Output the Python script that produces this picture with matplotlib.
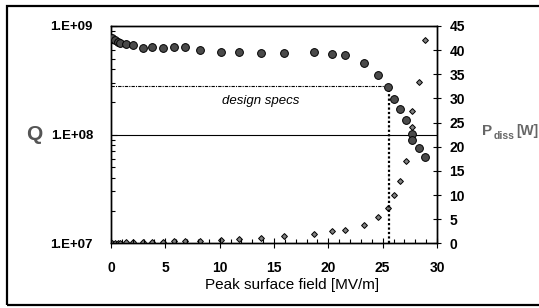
import matplotlib
matplotlib.use("Agg")
import matplotlib.pyplot as plt
from matplotlib.patches import Rectangle
from matplotlib.ticker import FixedLocator, MultipleLocator, LogLocator, NullFormatter

# ---- data ----
field = [0.12, 0.37, 0.62, 0.86, 1.35, 2.05, 2.98, 3.80, 4.76, 5.80, 6.82, 8.20,
         10.13, 11.82, 13.79, 15.96, 18.64, 20.36, 21.53, 23.24, 24.55, 25.47,
         26.07, 26.64, 27.11, 27.74, 27.74, 28.34, 28.94]
q_values = [7.7e8, 7.4e8, 7.2e8, 7.0e8, 6.9e8, 6.7e8, 6.3e8, 6.45e8, 6.24e8, 6.45e8,
            6.37e8, 6.0e8, 5.73e8, 5.73e8, 5.61e8, 5.61e8, 5.73e8, 5.5e8, 5.38e8,
            4.54e8, 3.55e8, 2.74e8, 2.12e8, 1.71e8, 1.36e8, 1.01e8, 8.9e7, 7.5e7, 6.2e7]
p_diss = [0.1, 0.1, 0.1, 0.15, 0.2, 0.2, 0.25, 0.3, 0.3, 0.4, 0.45, 0.5,
          0.7, 0.9, 1.1, 1.5, 1.9, 2.5, 2.7, 3.7, 5.4, 7.4,
          10.1, 13.0, 17.0, 24.0, 27.4, 33.5, 42.2]
spec_field = 25.6
spec_q = 2.8e8
ref_q = 1e8
x_ticks = [0, 5, 10, 15, 20, 25, 30]
q_ticks = [1e7, 1e8, 1e9]
q_tick_labels = ["1.E+07", "1.E+08", "1.E+09"]
p_ticks = [0, 5, 10, 15, 20, 25, 30, 35, 40, 45]

plt.rcParams['font.family'] = ['Liberation Sans', 'DejaVu Sans']

W, H = 539, 308
fig = plt.figure(figsize=(W / 100, H / 100), dpi=100)
fig.patch.set_facecolor('white')

L, R, T, B = 111, 437, 26, 243.3
ax = fig.add_axes([L / W, 1 - B / H, (R - L) / W, (B - T) / H])
ax2 = ax.twinx()

# frame around figure (right edge lies beyond the image, as in the reference)
fig.patches.append(Rectangle((7 / W, 1 - 304.5 / H), (548 - 7) / W, (304.5 - 6) / H,
                             transform=fig.transFigure, fill=False,
                             edgecolor='black', linewidth=1.6))

ax.set_yscale('log')
ax.set_xlim(0, 30)
ax.set_ylim(1e7, 1e9)
ax2.set_ylim(0, 45)

# reference lines
ax.axhline(ref_q, color='black', linewidth=0.8, zorder=1)
ax.plot([0, spec_field], [spec_q, spec_q], color='black', linewidth=0.8,
        linestyle=(0, (3, 1, 1, 1)), zorder=1)
ax.plot([spec_field, spec_field], [1e7, spec_q], color='black', linewidth=1.6,
        linestyle=(0, (1, 1)), zorder=1)

ax.plot(field, q_values, linestyle='none', marker='o', markersize=5.6,
        markerfacecolor='#4a4a4a', markeredgecolor='black', markeredgewidth=0.7,
        zorder=3)
ax2.plot(field, p_diss, linestyle='none', marker='D', markersize=3.0,
         markerfacecolor='#808080', markeredgecolor='black', markeredgewidth=0.7,
         zorder=3)
ax.set_zorder(ax2.get_zorder() + 1)
ax.patch.set_visible(False)

# ticks
ax.xaxis.set_major_locator(FixedLocator(x_ticks))
ax.xaxis.set_minor_locator(MultipleLocator(1))
ax.tick_params(axis='x', which='major', direction='inout', length=7, width=0.8,
               pad=9, labelsize=10)
ax.tick_params(axis='x', which='minor', direction='in', length=3, width=0.8)
for lab in ax.get_xticklabels():
    lab.set_fontweight('bold')

ax.yaxis.set_major_locator(FixedLocator(q_ticks))
ax.set_yticklabels(q_tick_labels)
ax.yaxis.set_minor_locator(LogLocator(base=10, subs=range(2, 10)))
ax.yaxis.set_minor_formatter(NullFormatter())
ax.tick_params(axis='y', which='major', direction='in', length=4, width=0.8,
               pad=13, labelsize=9.5)
ax.tick_params(axis='y', which='minor', direction='in', length=3, width=0.8)
for lab in ax.get_yticklabels():
    lab.set_fontweight('bold')

ax2.yaxis.set_major_locator(FixedLocator(p_ticks))
ax2.tick_params(axis='y', which='major', direction='inout', length=6, width=0.8,
                pad=6, labelsize=10)
for lab in ax2.get_yticklabels():
    lab.set_fontweight('bold')

for a in (ax, ax2):
    for s in a.spines.values():
        s.set_linewidth(1.0)
        s.set_color('black')

# labels
fig.text(291.7 / W, 1 - 285 / H, "Peak surface field [MV/m]", ha='center',
         va='center', fontsize=11)
fig.text(34.5 / W, 1 - 134.5 / H, "Q", ha='center', va='center', fontsize=15,
         fontweight='bold', color='#555555')
fig.text(482 / W, 1 - 131 / H, "P", ha='left', va='center', fontsize=11,
         fontweight='bold', color='#666666')
fig.text(493.5 / W, 1 - 136.5 / H, "diss", ha='left', va='center', fontsize=7.5,
         fontweight='bold', color='#666666')
fig.text(538 / W, 1 - 131 / H, "[W]", ha='right', va='center', fontsize=10,
         fontweight='bold', color='#666666')
ax.text(13.8, 10 ** (9 - (101 - 26) / 108.8), "design specs", ha='center',
        va='center', fontsize=9.5, fontstyle='italic')

fig.savefig("out.png", dpi=100, facecolor='white')
